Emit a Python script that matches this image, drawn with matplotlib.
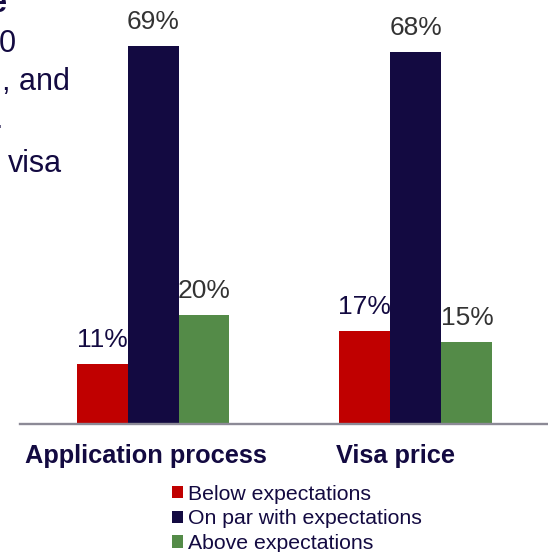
import matplotlib
matplotlib.use("Agg")
import matplotlib.pyplot as plt
import matplotlib.transforms as mtransforms
from matplotlib.patches import Patch
import numpy as np

plt.rcParams['font.family'] = ['Liberation Sans', 'DejaVu Sans']

# ---- data ----
categories = ["Application process", "Visa price"]
series_names = ["Below expectations", "On par with expectations", "Above expectations"]
below = [11, 17]
on_par = [69, 68]
above = [20, 15]
value_labels_below = ["11%", "17%"]
value_labels_onpar = ["69%", "68%"]
value_labels_above = ["20%", "15%"]
fragment_texts = ["e", "0", ", and", ".", "visa"]

# ---- style ----
NAVY = "#130a41"
RED = "#c00000"
GREEN = "#548b48"
GRAY_TXT = "#333333"
AXIS_GRAY = "#8c8a96"

W, H = 548, 552
fig = plt.figure(figsize=(W / 100, H / 100), dpi=100)

axis_y_px = 424.3
px_per_pct = 5.48
left_px = 20
ax = fig.add_axes([left_px / W, (H - axis_y_px) / H, (W - left_px) / W, axis_y_px / H])

group_center_px = [153.0, 415.9]
gap = group_center_px[1] - group_center_px[0]
bw = 51.0 / gap
x = np.arange(len(categories))

series = [below, on_par, above]
colors = [RED, NAVY, GREEN]
labels = [value_labels_below, value_labels_onpar, value_labels_above]
label_colors = [NAVY, GRAY_TXT, GRAY_TXT]
offsets = [-bw, 0, bw]

for vals, col, labs, lcol, off in zip(series, colors, labels, label_colors, offsets):
    bars = ax.bar(x + off, vals, width=bw, color=col, edgecolor='none', zorder=2)
    for b, lab in zip(bars, labs):
        ax.annotate(lab, (b.get_x() + b.get_width() / 2, b.get_height()),
                    xytext=(0, 17 * 72 / 100), textcoords='offset points',
                    ha='center', va='baseline', fontsize=19, color=lcol)

ax.set_xlim((left_px - group_center_px[0]) / gap, (W - group_center_px[0]) / gap)
ax.set_ylim(0, axis_y_px / px_per_pct)
for s in ['top', 'right', 'left']:
    ax.spines[s].set_visible(False)
ax.spines['bottom'].set_color(AXIS_GRAY)
ax.spines['bottom'].set_linewidth(1.7)
ax.set_xticks([])
ax.set_yticks([])
ax.patch.set_alpha(0)

# category labels
cat_shift_px = [-7, -20]
cat_baseline_px = 463.5
for xi, cat, sh in zip(x, categories, cat_shift_px):
    tr = mtransforms.blended_transform_factory(ax.transData, fig.transFigure) + \
        mtransforms.ScaledTranslation(sh / 100, 0, fig.dpi_scale_trans)
    ax.text(xi, (H - cat_baseline_px) / H, cat, transform=tr, ha='center', va='baseline',
            fontsize=18.3, fontweight='bold', color=NAVY, clip_on=False)

# legend
handles = [Patch(facecolor=c, edgecolor='none') for c in colors]
leg = fig.legend(handles, series_names, loc='upper left',
                 bbox_to_anchor=(171.7 / W, 1 - 484.5 / H), frameon=False,
                 fontsize=15.3, handlelength=0.52, handleheight=0.52,
                 handletextpad=0.26, labelspacing=0.27, borderpad=0, borderaxespad=0)
for t in leg.get_texts():
    t.set_color(NAVY)

# clipped text fragments from adjacent slide element (top-left)
frag_right_px = [7, 16, 70, 3, 62]
frag_base_px = [12, 52, 90, 128, 172]
frag_weight = ['bold', 'normal', 'normal', 'normal', 'normal']
for t, r, b, wgt in zip(fragment_texts, frag_right_px, frag_base_px, frag_weight):
    fig.text(r / W, 1 - b / H, t, ha='right', va='baseline', fontsize=22,
             fontweight=wgt, color=NAVY)

fig.savefig("out.png", dpi=100)
